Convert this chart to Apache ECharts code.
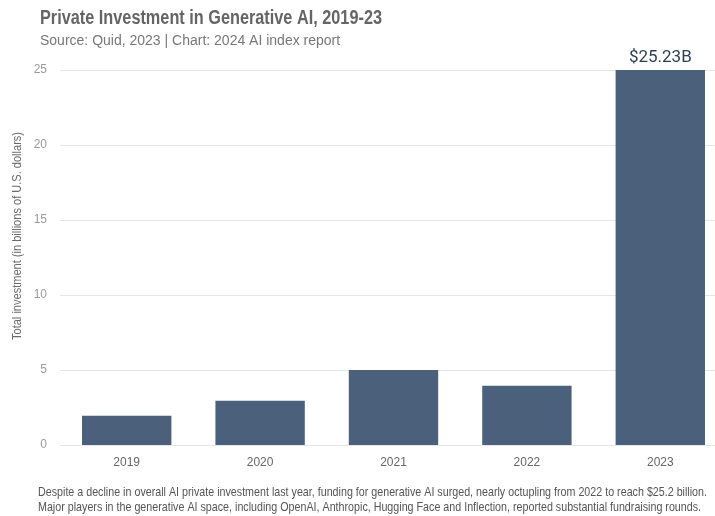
<!DOCTYPE html>
<html>
<head>
<meta charset="utf-8">
<script src="https://cdn.jsdelivr.net/npm/echarts@6/dist/echarts.min.js"></script>
<style>
  html, body { margin: 0; padding: 0; background: #fff; }
  #chart { width: 715px; height: 516px; }
</style>
</head>
<body>
<div id="chart"></div>
<script>
// Private investment in generative AI, billions of U.S. dollars
const years = ['2019', '2020', '2021', '2022', '2023'];
const investment = [1.95, 2.95, 5.0, 3.95, 25.23];
const yTicks = [0, 5, 10, 15, 20, 25];

const titleText = 'Private Investment in Generative AI, 2019-23';
const subtitleText = 'Source: Quid, 2023 | Chart: 2024 AI index report';
const yAxisName = 'Total investment (in billions of U.S. dollars)';
const noteLines = [
  'Despite a decline in overall AI private investment last year, funding for generative AI surged, nearly octupling from 2022 to reach $25.2 billion.',
  'Major players in the generative AI space, including OpenAI, Anthropic, Hugging Face and Inflection, reported substantial fundraising rounds.'
];

const SANS = '"Liberation Sans", Arial, sans-serif';

// Horizontal squeeze factor so a run of text fills a given width (condensed look)
const measureCtx = document.createElement('canvas').getContext('2d');
function squeeze(text, weight, size, width) {
  measureCtx.font = weight + ' ' + size + 'px ' + SANS;
  return width / measureCtx.measureText(text).width;
}

const titleScale = squeeze(titleText, 'bold', 20, 342);
const noteScale = squeeze(noteLines[0], 'normal', 13, 669);
const nameScale = squeeze(yAxisName, 'normal', 12, 208);

const chart = echarts.init(document.getElementById('chart'), null, { renderer: 'canvas' });

chart.setOption({
  animation: false,
  backgroundColor: '#ffffff',
  graphic: [
    {
      type: 'text', x: 40, y: 18, scaleX: titleScale,
      style: { text: titleText, fontFamily: SANS, fontWeight: 'bold', fontSize: 20,
               fill: '#656565', textVerticalAlign: 'middle' }
    },
    {
      type: 'text', x: 40, y: 41,
      style: { text: subtitleText, fontFamily: SANS, fontSize: 14,
               fill: '#777777', textVerticalAlign: 'middle' }
    },
    {
      type: 'text', x: 18, y: 236, rotation: Math.PI / 2, scaleX: nameScale,
      style: { text: yAxisName, fontFamily: SANS, fontSize: 12, fill: '#6a6a6a',
               textAlign: 'center', textVerticalAlign: 'middle' }
    },
    {
      type: 'text', x: 38, y: 492, scaleX: noteScale,
      style: { text: noteLines[0], fontFamily: SANS, fontSize: 13, fill: '#555555',
               textVerticalAlign: 'middle' }
    },
    {
      type: 'text', x: 38, y: 507.5, scaleX: noteScale,
      style: { text: noteLines[1], fontFamily: SANS, fontSize: 13, fill: '#555555',
               textVerticalAlign: 'middle' }
    }
  ],
  // The plot runs slightly past the right edge of the canvas, so gridlines bleed off
  grid: { left: 60, right: -12, top: 70, bottom: 71, containLabel: false, outerBoundsMode: 'none' },
  xAxis: {
    type: 'category',
    data: years,
    axisLine: { show: false },
    axisTick: { show: false },
    axisLabel: { margin: 12, fontSize: 12, color: '#666666', fontFamily: SANS }
  },
  yAxis: {
    type: 'value',
    min: 0, max: 25, interval: 5,
    axisLine: { show: false },
    axisTick: { show: false },
    splitLine: { lineStyle: { color: '#e6e6e6', width: 1 } },
    axisLabel: {
      margin: 13, fontSize: 12, color: '#9a9a9a', fontFamily: SANS,
      formatter: v => (yTicks.includes(v) ? String(v) : '')
    }
  },
  series: [{
    type: 'bar',
    data: investment.map((v, i) => i === investment.length - 1
      ? { value: v, label: { show: true, position: 'top', distance: 4, formatter: '$' + v.toFixed(2) + 'B',
            fontSize: 17, color: '#2f3e52', fontFamily: 'Roboto, "Liberation Sans", sans-serif' } }
      : v),
    barCategoryGap: '33%',
    clip: true,
    itemStyle: { color: '#4b607b' }
  }]
});
</script>
</body>
</html>
